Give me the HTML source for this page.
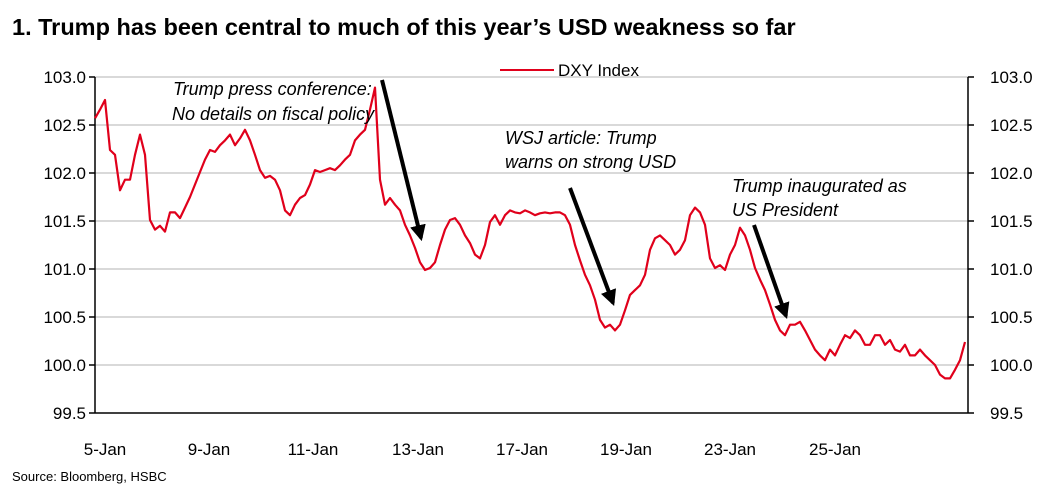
<!DOCTYPE html>
<html><head><meta charset="utf-8"><style>
body{margin:0;background:#fff;width:1052px;height:492px;overflow:hidden;font-family:"Liberation Sans Narrow","Liberation Sans",Arial,sans-serif}
svg{display:block}
</style></head><body>
<svg id="chart" width="1052" height="492" font-family="'Liberation Sans Narrow','Liberation Sans',Arial,sans-serif">
<text x="12" y="35" font-size="23.5" font-weight="bold" fill="#000" font-family="'Liberation Sans',Arial,sans-serif">1. Trump has been central to much of this year’s USD weakness so far</text>
<g id="grid"></g><g id="axes"></g><g id="series"></g>
<g>
<line x1="500" y1="70" x2="554" y2="70" stroke="#e0001b" stroke-width="2"/>
<text x="558" y="76" font-size="17">DXY Index</text>
</g>
<g font-size="18" font-style="italic" fill="#000">
<text x="173" y="95">Trump press conference:</text>
<text x="172" y="120">No details on fiscal policy</text>
<text x="505" y="144">WSJ article: Trump</text>
<text x="505" y="168">warns on strong USD</text>
<text x="732" y="192">Trump inaugurated as</text>
<text x="732" y="216">US President</text>
</g>
<defs><marker id="ah" viewBox="0 0 10 10" refX="8" refY="5" markerWidth="4" markerHeight="4" orient="auto"><path d="M0,0 L10,5 L0,10 z" fill="#000"/></marker></defs>
<line x1="382" y1="80" x2="421" y2="238" stroke="#000" stroke-width="4" marker-end="url(#ah)"/>
<line x1="570" y1="188" x2="613" y2="303" stroke="#000" stroke-width="4" marker-end="url(#ah)"/>
<line x1="754" y1="225" x2="786" y2="316" stroke="#000" stroke-width="4" marker-end="url(#ah)"/>
<text x="12" y="481" font-size="13">Source:  Bloomberg, HSBC</text>
</svg>
<script>
const yTicks=[99.5,100.0,100.5,101.0,101.5,102.0,102.5,103.0];
const xLabels=["5-Jan","9-Jan","11-Jan","13-Jan","17-Jan","19-Jan","23-Jan","25-Jan"];
const xLabelIdx=[2,22.8,43.6,64.6,85.4,106.2,127,148];
const dxy=[102.57,102.66,102.76,102.24,102.19,101.82,101.93,101.93,102.19,102.40,102.19,101.51,101.41,101.45,101.39,101.59,101.59,101.53,101.64,101.75,
101.88,102.01,102.14,102.24,102.22,102.29,102.34,102.40,102.29,102.36,102.45,102.34,102.19,102.03,101.95,101.97,101.93,101.82,101.61,101.56,
101.67,101.74,101.77,101.88,102.03,102.01,102.03,102.05,102.03,102.08,102.14,102.19,102.34,102.40,102.45,102.66,102.89,101.93,101.67,101.74,
101.67,101.61,101.46,101.35,101.22,101.07,100.99,101.01,101.07,101.25,101.41,101.51,101.53,101.46,101.35,101.27,101.15,101.11,101.25,101.49,
101.56,101.46,101.56,101.61,101.59,101.58,101.61,101.59,101.56,101.58,101.59,101.58,101.59,101.59,101.56,101.46,101.25,101.09,100.94,100.83,
100.68,100.47,100.39,100.42,100.36,100.42,100.57,100.73,100.78,100.83,100.94,101.20,101.32,101.35,101.30,101.25,101.15,101.20,101.30,101.56,
101.64,101.59,101.46,101.11,101.01,101.04,100.99,101.15,101.25,101.43,101.35,101.20,101.01,100.89,100.78,100.63,100.47,100.36,100.31,100.42,
100.42,100.45,100.36,100.26,100.16,100.10,100.05,100.16,100.10,100.21,100.31,100.28,100.36,100.31,100.21,100.21,100.31,100.31,100.21,100.26,
100.16,100.14,100.21,100.10,100.10,100.16,100.10,100.05,100.00,99.90,99.86,99.86,99.95,100.05,100.24];
const L=95,R=968,T=77,B=413,ymin=99.5,ymax=103.0;
const sx=i=>L+(R-L)*i/(dxy.length-0.4);
const sy=v=>B-(v-ymin)/(ymax-ymin)*(B-T);
const NS="http://www.w3.org/2000/svg";
function mk(tag,attrs,parent,txt){const e=document.createElementNS(NS,tag);for(const k in attrs)e.setAttribute(k,attrs[k]);if(txt!==undefined)e.textContent=txt;parent.appendChild(e);return e;}
const grid=document.getElementById('grid'),axes=document.getElementById('axes'),ser=document.getElementById('series');
yTicks.forEach(v=>{
 const y=sy(v);
 if(v>ymin){const g=mk('line',{x1:L,x2:R,y1:y,y2:y,stroke:'#d9d9d9','stroke-width':2},grid);
 
 }
 mk('line',{x1:L-6,x2:L,y1:y,y2:y,stroke:'#000','stroke-width':1.5},axes);
 mk('line',{x1:R,x2:R+6,y1:y,y2:y,stroke:'#000','stroke-width':1.5},axes);
 const a=mk('text',{x:86,y:y+6,'font-size':17,'text-anchor':'end'},axes,v.toFixed(1));
 
 
 const b=mk('text',{x:990,y:y+6,'font-size':17},axes,v.toFixed(1));
 
 
});
mk('line',{x1:L,x2:L,y1:T,y2:B,stroke:'#000','stroke-width':1.5},axes);
mk('line',{x1:R,x2:R,y1:T,y2:B,stroke:'#000','stroke-width':1.5},axes);
mk('line',{x1:L,x2:R,y1:B,y2:B,stroke:'#000','stroke-width':1.5},axes);
xLabels.forEach((s,i)=>{
 const x=sx(xLabelIdx[i]);
 const t=mk('text',{x:x,y:455,'font-size':17,'text-anchor':'middle'},axes,s);
 
 
});
const p=mk('polyline',{points:dxy.map((v,i)=>sx(i).toFixed(1)+','+sy(v).toFixed(1)).join(' '),fill:'none',stroke:'#e0001b','stroke-width':2.2,'stroke-linejoin':'round'},ser);


</script>
</body></html>
